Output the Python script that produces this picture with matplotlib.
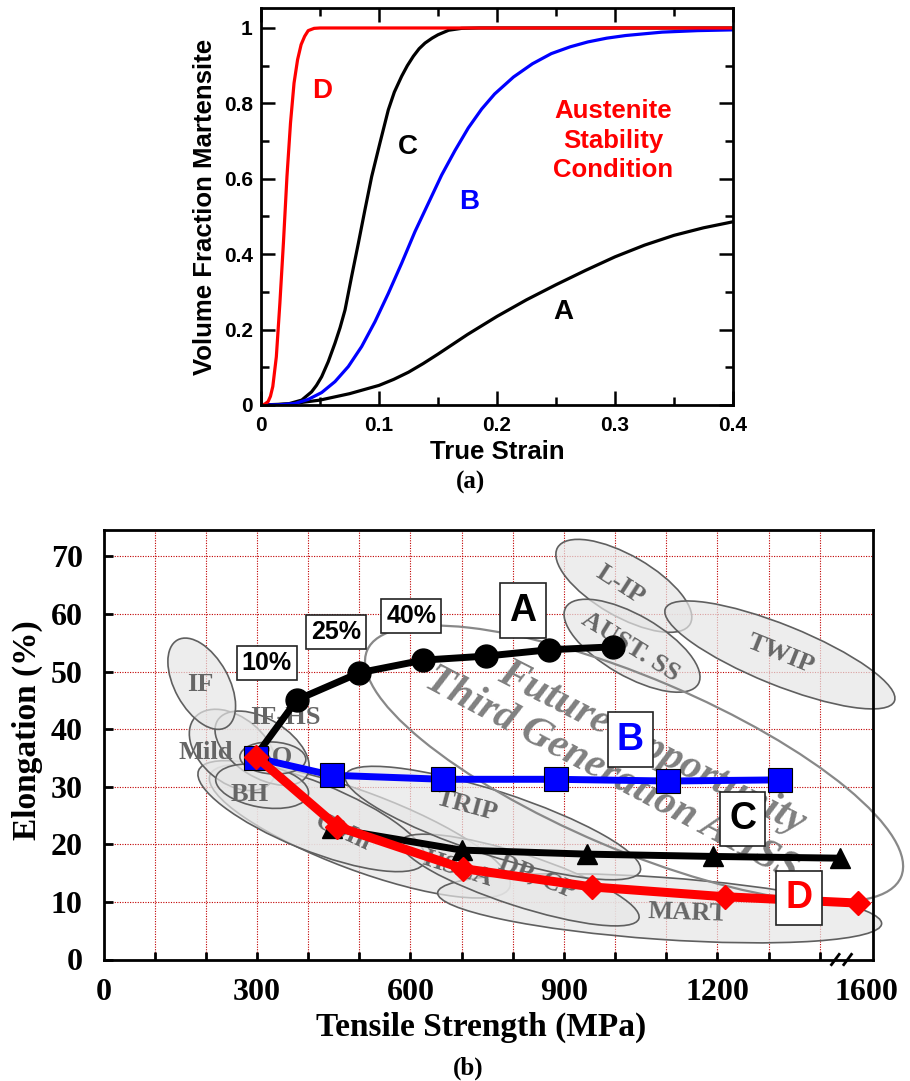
import matplotlib
matplotlib.use("Agg")
import matplotlib.pyplot as plt
from matplotlib.patches import Ellipse
from matplotlib.transforms import ScaledTranslation

plt.rcParams['font.family'] = ['Liberation Sans', 'DejaVu Sans']
plt.rcParams['font.weight'] = 'bold'
SERIF = ['Liberation Serif', 'DejaVu Serif']

# ---------------- panel (a): volume fraction martensite vs true strain ----------------
strain_D = [0, 0.003, 0.006, 0.008, 0.010, 0.013, 0.016, 0.019, 0.022, 0.025, 0.028, 0.031,
            0.034, 0.037, 0.040, 0.045, 0.050, 0.1, 0.2, 0.3, 0.4]
frac_D = [0, 0.002, 0.009, 0.023, 0.049, 0.128, 0.27, 0.43, 0.606, 0.748, 0.854, 0.916,
          0.956, 0.978, 0.993, 0.999, 1.0, 1.0, 1.0, 1.0, 1.0]

strain_C = [0, 0.01, 0.0232, 0.0345, 0.0429, 0.047, 0.0514, 0.057, 0.0627, 0.067, 0.0712,
            0.0768, 0.0825, 0.0881, 0.0938, 0.1008, 0.1079, 0.113, 0.1192, 0.124, 0.1291,
            0.134, 0.139, 0.145, 0.150, 0.159, 0.170, 0.185, 0.2, 0.3, 0.4]
frac_C = [0, 0.0, 0.003, 0.013, 0.035, 0.052, 0.075, 0.115, 0.164, 0.205, 0.252,
          0.341, 0.429, 0.518, 0.606, 0.695, 0.783, 0.83, 0.872, 0.90, 0.925,
          0.945, 0.960, 0.973, 0.982, 0.994, 0.999, 1.0, 1.0, 1.0, 1.0]

strain_B = [0, 0.015, 0.0288, 0.0401, 0.0514, 0.0627, 0.074, 0.0853, 0.0966, 0.1079, 0.1192,
            0.1305, 0.1418, 0.1531, 0.1644, 0.1757, 0.187, 0.198, 0.214, 0.23, 0.246, 0.262,
            0.277, 0.293, 0.309, 0.34, 0.37, 0.4]
frac_B = [0, 0.0005, 0.004, 0.015, 0.033, 0.062, 0.102, 0.155, 0.221, 0.296, 0.376,
          0.46, 0.535, 0.61, 0.675, 0.735, 0.785, 0.825, 0.87, 0.905, 0.932, 0.95,
          0.963, 0.973, 0.98, 0.989, 0.993, 0.995]

strain_A = [0, 0.025, 0.05, 0.075, 0.1, 0.1125, 0.125, 0.1375, 0.15, 0.1625, 0.175, 0.2,
            0.225, 0.25, 0.275, 0.3, 0.325, 0.35, 0.375, 0.4]
frac_A = [0, 0.003, 0.013, 0.03, 0.052, 0.068, 0.087, 0.11, 0.135, 0.161, 0.187, 0.235,
          0.279, 0.319, 0.357, 0.393, 0.424, 0.450, 0.470, 0.486]

x_ticks_a = [0, 0.1, 0.2, 0.3, 0.4]
x_labels_a = ['0', '0.1', '0.2', '0.3', '0.4']
y_ticks_a = [0, 0.2, 0.4, 0.6, 0.8, 1.0]
y_labels_a = ['0', '0.2', '0.4', '0.6', '0.8', '1']

# ---------------- panel (b): elongation vs tensile strength ----------------
ts_A = [299, 378, 500, 625, 748, 871, 995]
el_A = [35.5, 45.1, 49.8, 52.0, 52.7, 53.8, 54.3]
ts_B = [299, 446, 664, 884, 1104, 1323]
el_B = [35.0, 32.0, 31.3, 31.3, 31.0, 31.2]
ts_C = [446, 700, 945, 1192, 1439]
el_C = [22.8, 19.0, 18.3, 17.9, 17.6]
ts_D = [299, 457, 702, 955, 1214, 1475]
el_D = [35.2, 23.1, 15.8, 12.6, 10.9, 9.8]

x_ticks_b = [0, 300, 600, 900, 1200, 1491]
x_labels_b = ['0', '300', '600', '900', '1200', '1600']
y_ticks_b = [0, 10, 20, 30, 40, 50, 60, 70]

# steel-class regions: name, centre (MPa, %), size in pixels, tilt (deg)
steel_regions = [
    ('HSLA', 501, 22.3, 320, 78, -20.5),
    ('CMn', 407, 24.9, 244, 68, -22),
    ('MART', 1087, 8.9, 445, 62, -4),
    ('DP, CP', 814, 13.8, 250, 52, -18),
    ('TRIP', 761, 23.7, 310, 64, -18),
    ('Mild', 253, 36.4, 100, 65, -40),
    ('IF-HS', 310, 36.7, 105, 58, -32),
    ('BH', 310, 30.1, 94, 42, -10),
    ('ISO', 331, 35.0, 66, 32, -3),
    ('IF', 192, 47.9, 100, 54, -61),
    ('L-IP', 1017, 64.9, 153, 61, -30),
    ('AUST. SS', 1033, 54.5, 153, 61, -30),
    ('TWIP', 1322, 52.9, 247, 60, -22),
]
third_gen_region = (1037, 34.0, 580, 172, -23)

# steel-class labels: text, position (MPa, %), rotation
steel_labels = [
    ('IF', 189, 47.7, 0), ('IF-HS', 355, 42.1, 0), ('Mild', 200, 36.0, 0),
    ('ISO', 325, 35.0, 0), ('BH', 286, 28.6, 0), ('CMn', 468, 22.0, -25),
    ('HSLA', 693, 15.7, -18), ('TRIP', 710, 26.6, -15), ('DP, CP', 849, 14.3, -22),
    ('MART', 1142, 8.1, -2), ('L-IP', 1011, 65.1, -33), ('AUST. SS', 1029, 54.3, -32),
    ('TWIP', 1324, 53.1, -22),
]
pct_labels = [('10%', 319, 51.45), ('25%', 455, 56.9), ('40%', 601.5, 59.6)]
curve_boxes = [('A', 820, 60.6, 'black'), ('B', 1030, 38.2, '#0000ff'),
               ('C', 1249, 24.4, 'black'), ('D', 1360, 10.7, '#ff0000')]

# ---------------- figure ----------------
W, H = 910, 1081
fig = plt.figure(figsize=(W / 100, H / 100), dpi=100)


def fbox(l, t, r, b):
    return [l / W, 1 - b / H, (r - l) / W, (b - t) / H]


# ---- panel (a)
axa = fig.add_axes(fbox(261, 8, 733, 405))
axa.plot(strain_A, frac_A, color='black', lw=2.3)
axa.plot(strain_C, frac_C, color='black', lw=2.3)
axa.plot(strain_B, frac_B, color='#0000ff', lw=2.3)
axa.plot(strain_D, frac_D, color='#ff0000', lw=2.3)
axa.set_xlim(0, 0.4)
axa.set_ylim(0, 1.053)
axa.set_xticks(x_ticks_a, labels=x_labels_a, fontsize=15, fontweight='bold')
axa.set_yticks(y_ticks_a, labels=y_labels_a, fontsize=15, fontweight='bold')
axa.set_xticks([0.05, 0.15, 0.25, 0.35], minor=True)
axa.set_yticks([0.1, 0.3, 0.5, 0.7, 0.9], minor=True)
axa.tick_params(which='both', direction='in', top=True, right=True, width=1.8)
axa.tick_params(which='major', length=10)
axa.tick_params(which='minor', length=5.5)
axa.tick_params(axis='x', pad=8)
axa.tick_params(axis='y', pad=6)
for s in axa.spines.values():
    s.set_linewidth(2.0)

axa.text(0.0514, 0.834, 'D', color='#ff0000', fontsize=20, ha='center', va='center')
axa.text(0.1246, 0.685, 'C', color='black', fontsize=20, ha='center', va='center')
axa.text(0.1763, 0.538, 'B', color='#0000ff', fontsize=20, ha='center', va='center')
axa.text(0.2564, 0.247, 'A', color='black', fontsize=20, ha='center', va='center')
for txt, yy in [('Austenite', 0.7786), ('Stability', 0.6995), ('Condition', 0.6244)]:
    axa.text(0.2983, yy, txt, color='#ff0000', fontsize=18.5, ha='center', va='center')

fig.text(497.8 / W, 1 - 452.4 / H, 'True Strain', fontsize=18.5, ha='center', va='center')
fig.text(205 / W, 1 - 206.6 / H, 'Volume Fraction Martensite', fontsize=18.5,
         rotation=90, ha='center', va='center')
fig.text(470 / W, 1 - 482 / H, '(a)', fontsize=18, family=SERIF, ha='center', va='center')

# ---- panel (b)
axb = fig.add_axes(fbox(103.5, 530, 873, 959.5))
axb.set_xlim(0, 1504)
axb.set_ylim(0, 74.6)
axb.set_axisbelow(True)
axb.xaxis.remove_overlapping_locs = False
axb.set_xticks(x_ticks_b, labels=x_labels_b, family=SERIF, fontsize=23, fontweight='bold')
axb.set_xticks(list(range(100, 1500, 100)), minor=True)
axb.set_yticks(y_ticks_b, labels=[str(v) for v in y_ticks_b], family=SERIF,
               fontsize=23, fontweight='bold')
axb.tick_params(axis='x', which='major', length=0, pad=13)
axb.tick_params(axis='x', which='minor', direction='in', length=6, width=2)
axb.tick_params(axis='y', which='major', direction='in', length=6.5, width=2, pad=15)
axb.grid(True, which='minor', axis='x', color='#c00000', lw=0.8, ls=(0, (1, 1.3)))
axb.grid(True, which='major', axis='y', color='#c00000', lw=0.8, ls=(0, (1, 1.3)))
for s in axb.spines.values():
    s.set_linewidth(2.0)


def add_region(ax, x, y, w, h, ang, **kw):
    tr = fig.dpi_scale_trans + ScaledTranslation(x, y, ax.transData)
    e = Ellipse((0, 0), w / fig.dpi, h / fig.dpi, angle=ang, transform=tr,
                clip_on=False, **kw)
    ax.add_patch(e)


for name, x, y, w, h, ang in steel_regions:
    add_region(axb, x, y, w, h, ang, facecolor=(0.9, 0.9, 0.9, 0.7),
               edgecolor='#5f5f5f', lw=1.2, zorder=1)
for txt, x, y, r in steel_labels:
    axb.text(x, y, txt, rotation=r, rotation_mode='anchor', ha='center', va='center',
             family=SERIF, fontweight='bold', fontsize=19, color='#666666', zorder=1.5)

gx, gy, gw, gh, ga = third_gen_region
add_region(axb, gx, gy, gw, gh, ga, facecolor='none', edgecolor='#888888', lw=1.6, zorder=1.8)
axb.text(1072, 36.8, 'Future Opportunity', rotation=-27, rotation_mode='anchor',
         ha='center', va='center', family=SERIF, fontweight='bold', fontstyle='italic',
         fontsize=30, color='#808080', zorder=2)
axb.text(994, 32.0, 'Third Generation AHSS', rotation=-28, rotation_mode='anchor',
         ha='center', va='center', family=SERIF, fontweight='bold', fontstyle='italic',
         fontsize=30, color='#808080', zorder=2)

axb.plot(ts_A, el_A, color='black', lw=5, marker='o', ms=16.5, markevery=slice(1, None),
         zorder=3)
axb.plot(ts_C, el_C, color='black', lw=5, marker='^', ms=15, zorder=3.1)
axb.plot(ts_B, el_B, color='#0000ff', lw=5, marker='s', ms=17, mec='black', mew=0.8,
         zorder=3.2)
axb.plot(ts_D, el_D, color='#ff0000', lw=6.5, marker='D', ms=12, zorder=3.4)

for txt, x, y in pct_labels:
    axb.text(x, y, txt, ha='center', va='center', fontsize=18, color='black', zorder=6,
             bbox=dict(boxstyle='square,pad=0.2', fc='white', ec='#222222', lw=1.2))
for txt, x, y, c in curve_boxes:
    axb.text(x, y, txt, ha='center', va='center', fontsize=27, color=c, zorder=6,
             bbox=dict(boxstyle='square,pad=0.25', fc='white', ec='#222222', lw=1.2))

# axis-break marks
for xb in (0.951, 0.967):
    axb.plot([xb - 0.005, xb + 0.005], [-0.012, 0.012], transform=axb.transAxes,
             color='black', lw=2, clip_on=False, zorder=7)

fig.text(481 / W, 1 - 1027 / H, 'Tensile Strength (MPa)', family=SERIF, fontsize=24,
         ha='center', va='center')
fig.text(27.5 / W, 1 - 730 / H, 'Elongation (%)', family=SERIF, fontsize=24,
         rotation=90, ha='center', va='center')
fig.text(468 / W, 1 - 1068 / H, '(b)', family=SERIF, fontsize=18, ha='center', va='center')

fig.savefig('out.png', dpi=100)
